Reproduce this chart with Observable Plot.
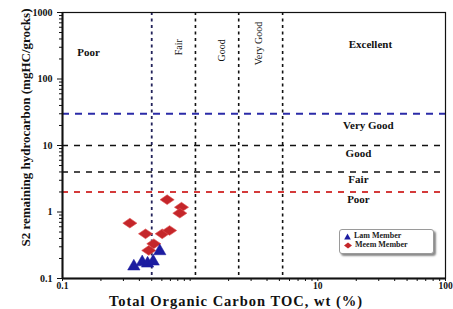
<!DOCTYPE html>
<html><head><meta charset="utf-8">
<script src="https://cdn.jsdelivr.net/npm/d3@7"></script>
<script src="https://cdn.jsdelivr.net/npm/@observablehq/plot@0.6"></script>
<style>
body{margin:0;background:#fff;}
#wrap{position:relative;width:453px;height:309px;overflow:hidden;font-family:"Liberation Serif","Times New Roman",serif;}
#legend{position:absolute;left:339px;top:229px;width:93px;height:23px;border:1px solid #9a9a9a;border-radius:3px;box-shadow:2px 2px 2px #8a8a8a;background:#fff;font:bold 8px "Liberation Serif",serif;color:#222;}
#legend .row{position:absolute;left:4px;display:flex;align-items:center;gap:3px;line-height:8px;white-space:nowrap;}
</style></head>
<body><div id="wrap"></div>
<script>
// ---- data ----
const lamTOC = [0.362, 0.421, 0.464, 0.513, 0.578];
const lamS2  = [0.152, 0.176, 0.168, 0.180, 0.258];
const meemTOC = [0.66, 0.855, 0.83, 0.337, 0.447, 0.604, 0.69, 0.519, 0.474];
const meemS2  = [1.53, 1.18, 0.96, 0.68, 0.47, 0.47, 0.527, 0.333, 0.264];
const seriesNames = ["Lam Member", "Meem Member"];
const seriesColors = ["#1c1ca0", "#c4262a"];

// classification thresholds
const s2BlueLine = [30];
const s2BlackLines = [10, 4];
const s2RedLine = [2];
const tocBlueLine = [0.5];
const tocBlackLines = [1.1, 2.4, 5.3];

// zone labels
const topLabels = ["Poor", "Excellent"];
const topLabelTOC = [0.16, 25.8];
const topLabelS2 = [251, 330];
const rotLabels = ["Fair", "Good", "Very Good"];
const rotLabelTOC = [0.82, 1.76, 3.43];
const rotLabelS2 = [300, 269, 342];
const rightLabels = ["Very Good", "Good", "Fair", "Poor"];
const rightLabelTOC = [24.9, 20.8, 20.8, 20.8];
const rightLabelS2 = [20, 7.6, 3.08, 1.54];

// axes
const xTitle = "Total Organic Carbon TOC, wt (%)";
const yTitle = "S2 remaining hydrocarbon (mgHC/grocks)";
const xMajor = [0.1, 10, 100];
const xMajorLabels = ["0.1", "10", "100"];
const xMinor = [0.2,0.3,0.4,0.5,0.6,0.7,0.8,0.9,1,2,3,4,5,6,7,8,9,20,30,40,50,60,70,80,90];
const yMajor = [0.1, 1, 10, 100, 1000];
const yMajorLabels = ["0.1", "1", "10", "100", "1000"];
const yMinor = [0.2,0.3,0.4,0.5,0.6,0.7,0.8,0.9,2,3,4,5,6,7,8,9,20,30,40,50,60,70,80,90,200,300,400,500,600,700,800,900];

const lam = lamTOC.map((x,i)=>({x, y: lamS2[i]}));
const meem = meemTOC.map((x,i)=>({x, y: meemS2[i]}));
const tops = topLabels.map((t,i)=>({t, x: topLabelTOC[i], y: topLabelS2[i]}));
const rots = rotLabels.map((t,i)=>({t, x: rotLabelTOC[i], y: rotLabelS2[i]}));
const rights = rightLabels.map((t,i)=>({t, x: rightLabelTOC[i], y: rightLabelS2[i]}));

// wide diamond symbol
const wideDiamond = {
  draw(ctx, size) {
    const h = Math.sqrt(size) * 0.55, w = h * 1.45;
    ctx.moveTo(-w, 0); ctx.lineTo(0, -h); ctx.lineTo(w, 0); ctx.lineTo(0, h); ctx.closePath();
  }
};

const chart = Plot.plot({
  width: 453, height: 309,
  marginLeft: 62, marginRight: 8, marginTop: 12, marginBottom: 31,
  style: {fontFamily: '"Liberation Serif","Times New Roman",serif', fontSize: "10px", color: "#111", background: "#fff"},
  x: {type: "log", domain: [0.1, 100]},
  y: {type: "log", domain: [0.1, 1000]},
  marks: [
    Plot.axisX(xMinor, {tickSize: 3, tickFormat: () => "", label: null}),
    Plot.axisX(xMajor, {tickSize: 3, tickPadding: 1, tickFormat: d => xMajorLabels[xMajor.indexOf(d)], label: null, fontSize: 9.5, fontWeight: "bold"}),
    Plot.axisY(yMinor, {tickSize: 3, tickFormat: () => "", label: null}),
    Plot.axisY(yMajor, {tickSize: 5, tickPadding: 5, tickFormat: d => yMajorLabels[yMajor.indexOf(d)], label: null, fontSize: 10, fontWeight: "bold"}),
    Plot.ruleY(s2BlueLine, {stroke: "#2b2ba8", strokeWidth: 2, strokeDasharray: "7,6"}),
    Plot.ruleY(s2BlackLines, {stroke: "#111", strokeWidth: 1.5, strokeDasharray: "6,6"}),
    Plot.ruleY(s2RedLine, {stroke: "#d43a3a", strokeWidth: 2, strokeDasharray: "6,6"}),
    Plot.ruleX(tocBlueLine, {stroke: "#22225a", strokeWidth: 1.8, strokeDasharray: "3,3.5"}),
    Plot.ruleX(tocBlackLines, {stroke: "#111", strokeWidth: 1.6, strokeDasharray: "3,3.5"}),
    Plot.text(tops, {x: "x", y: "y", text: "t", fontSize: 11, fontWeight: "bold", fill: "#111"}),
    Plot.text(rots, {x: "x", y: "y", text: "t", rotate: -90, fontSize: 10, fontWeight: "normal", fill: "#111"}),
    Plot.text(rights, {x: "x", y: "y", text: "t", fontSize: 11, fontWeight: "bold", fill: "#111"}),
    Plot.dot(meem, {x: "x", y: "y", symbol: wideDiamond, r: 5, fill: seriesColors[1], stroke: "#e05050", strokeWidth: 0.6}),
    Plot.dot(lam, {x: "x", y: "y", symbol: "triangle", r: 4.6, fill: seriesColors[0], stroke: seriesColors[0], strokeWidth: 0.5}),
    Plot.frame({stroke: "#111", strokeWidth: 1.2}),
    Plot.ruleX([0.1], {stroke: "#111", strokeWidth: 2}),
    Plot.ruleY([0.1], {stroke: "#111", strokeWidth: 2}),
    Plot.text([yTitle], {frameAnchor: "left", textAnchor: "middle", lineAnchor: "middle", dx: -37, dy: -18, rotate: -90, fontSize: 13, fontWeight: "bold", fill: "#111"}),
    Plot.text([xTitle], {frameAnchor: "bottom", textAnchor: "middle", lineAnchor: "middle", dx: -18, dy: 22.5, fontSize: 14.5, fontWeight: "bold", fill: "#111"})
  ]
});
d3.select(chart).selectAll("text").filter(function(){ return this.textContent === xTitle; }).style("letter-spacing", "1px");
const wrap = document.getElementById("wrap");
wrap.appendChild(chart);

// legend
const legend = document.createElement("div");
legend.id = "legend";
const symbols = [
  '<svg width="7" height="7"><polygon points="3.5,0.5 6.8,6.5 0.2,6.5" fill="' + seriesColors[0] + '"/></svg>',
  '<svg width="8" height="7"><polygon points="0,3.5 4,0.5 8,3.5 4,6.5" fill="' + seriesColors[1] + '"/></svg>'
];
seriesNames.forEach((n, i) => {
  const row = document.createElement("div");
  row.className = "row";
  row.style.top = (2 + i * 9) + "px";
  row.innerHTML = symbols[i] + "<span>" + n + "</span>";
  legend.appendChild(row);
});
wrap.appendChild(legend);
</script>
</body></html>
